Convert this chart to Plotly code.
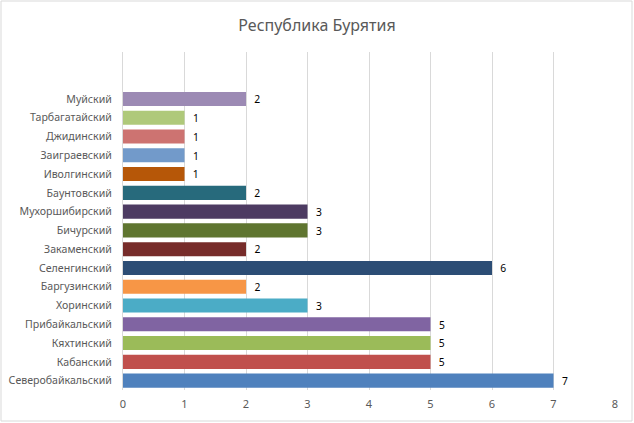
import plotly.graph_objects as go

# districts listed bottom to top, as in the chart
districts = [
    "Северобайкальский", "Кабанский", "Кяхтинский", "Прибайкальский",
    "Хоринский", "Баргузинский", "Селенгинский", "Закаменский",
    "Бичурский", "Мухоршибирский", "Баунтовский", "Иволгинский",
    "Заиграевский", "Джидинский", "Тарбагатайский", "Муйский",
]
counts = [7, 5, 5, 5, 3, 2, 6, 2, 3, 3, 2, 1, 1, 1, 1, 2]
bar_colors = [
    "#4F81BD", "#C0504D", "#9BBB59", "#8064A2", "#4BACC6", "#F79646",
    "#2C4D75", "#772C2A", "#5F7530", "#4D3B62", "#276A7C", "#B65708",
    "#729ACA", "#CD7371", "#AFC97A", "#9C8AB4",
]
x_ticks = [0, 1, 2, 3, 4, 5, 6, 7, 8]

font = "Noto Sans"

fig = go.Figure(
    go.Bar(
        x=counts,
        y=districts,
        orientation="h",
        marker=dict(color=bar_colors, line=dict(width=0)),
        texttemplate="  %{x}",
        textposition="outside",
        textfont=dict(family=font, size=11, color="#000000"),
        cliponaxis=False,
        hoverinfo="x+y",
    )
)

fig.update_layout(
    width=634,
    height=423,
    margin=dict(l=123, r=19, t=52, b=33),
    paper_bgcolor="white",
    plot_bgcolor="white",
    showlegend=False,
    bargap=0.25,
    title=dict(
        text="Республика Бурятия",
        x=0.5,
        xanchor="center",
        y=1 - 25 / 423,
        yanchor="middle",
        font=dict(family=font, size=16, color="#595959"),
    ),
    font=dict(family=font, size=11, color="#595959"),
)

fig.update_xaxes(
    range=[0, 8],
    tickvals=x_ticks,
    showgrid=True,
    gridcolor="#D9D9D9",
    gridwidth=1,
    zeroline=False,
    showline=False,
    ticks="",
    ticklabelstandoff=6,
    tickfont=dict(family=font, size=11, color="#595959"),
    automargin=False,
    fixedrange=True,
)

fig.update_yaxes(
    type="category",
    categoryorder="array",
    categoryarray=districts,
    range=[-0.5, 17.5],
    showgrid=False,
    zeroline=False,
    showline=True,
    linecolor="#D9D9D9",
    ticks="",
    ticklabelstandoff=8,
    tickfont=dict(family=font, size=10.6, color="#595959"),
    automargin=False,
    fixedrange=True,
)

# light frame around the whole chart area
fig.add_shape(
    type="rect",
    xref="paper", yref="paper",
    x0=(1 - 123) / 492, x1=(632 - 123) / 492,
    y0=(390 - 421) / 338, y1=1 + (52 - 1) / 338,
    line=dict(color="#D9D9D9", width=1),
    fillcolor="rgba(0,0,0,0)",
    layer="below",
)

fig.write_html(
    "out.html",
    config={"displayModeBar": False},
    post_script="document.body.style.margin='0';document.body.style.overflow='hidden';",
)
